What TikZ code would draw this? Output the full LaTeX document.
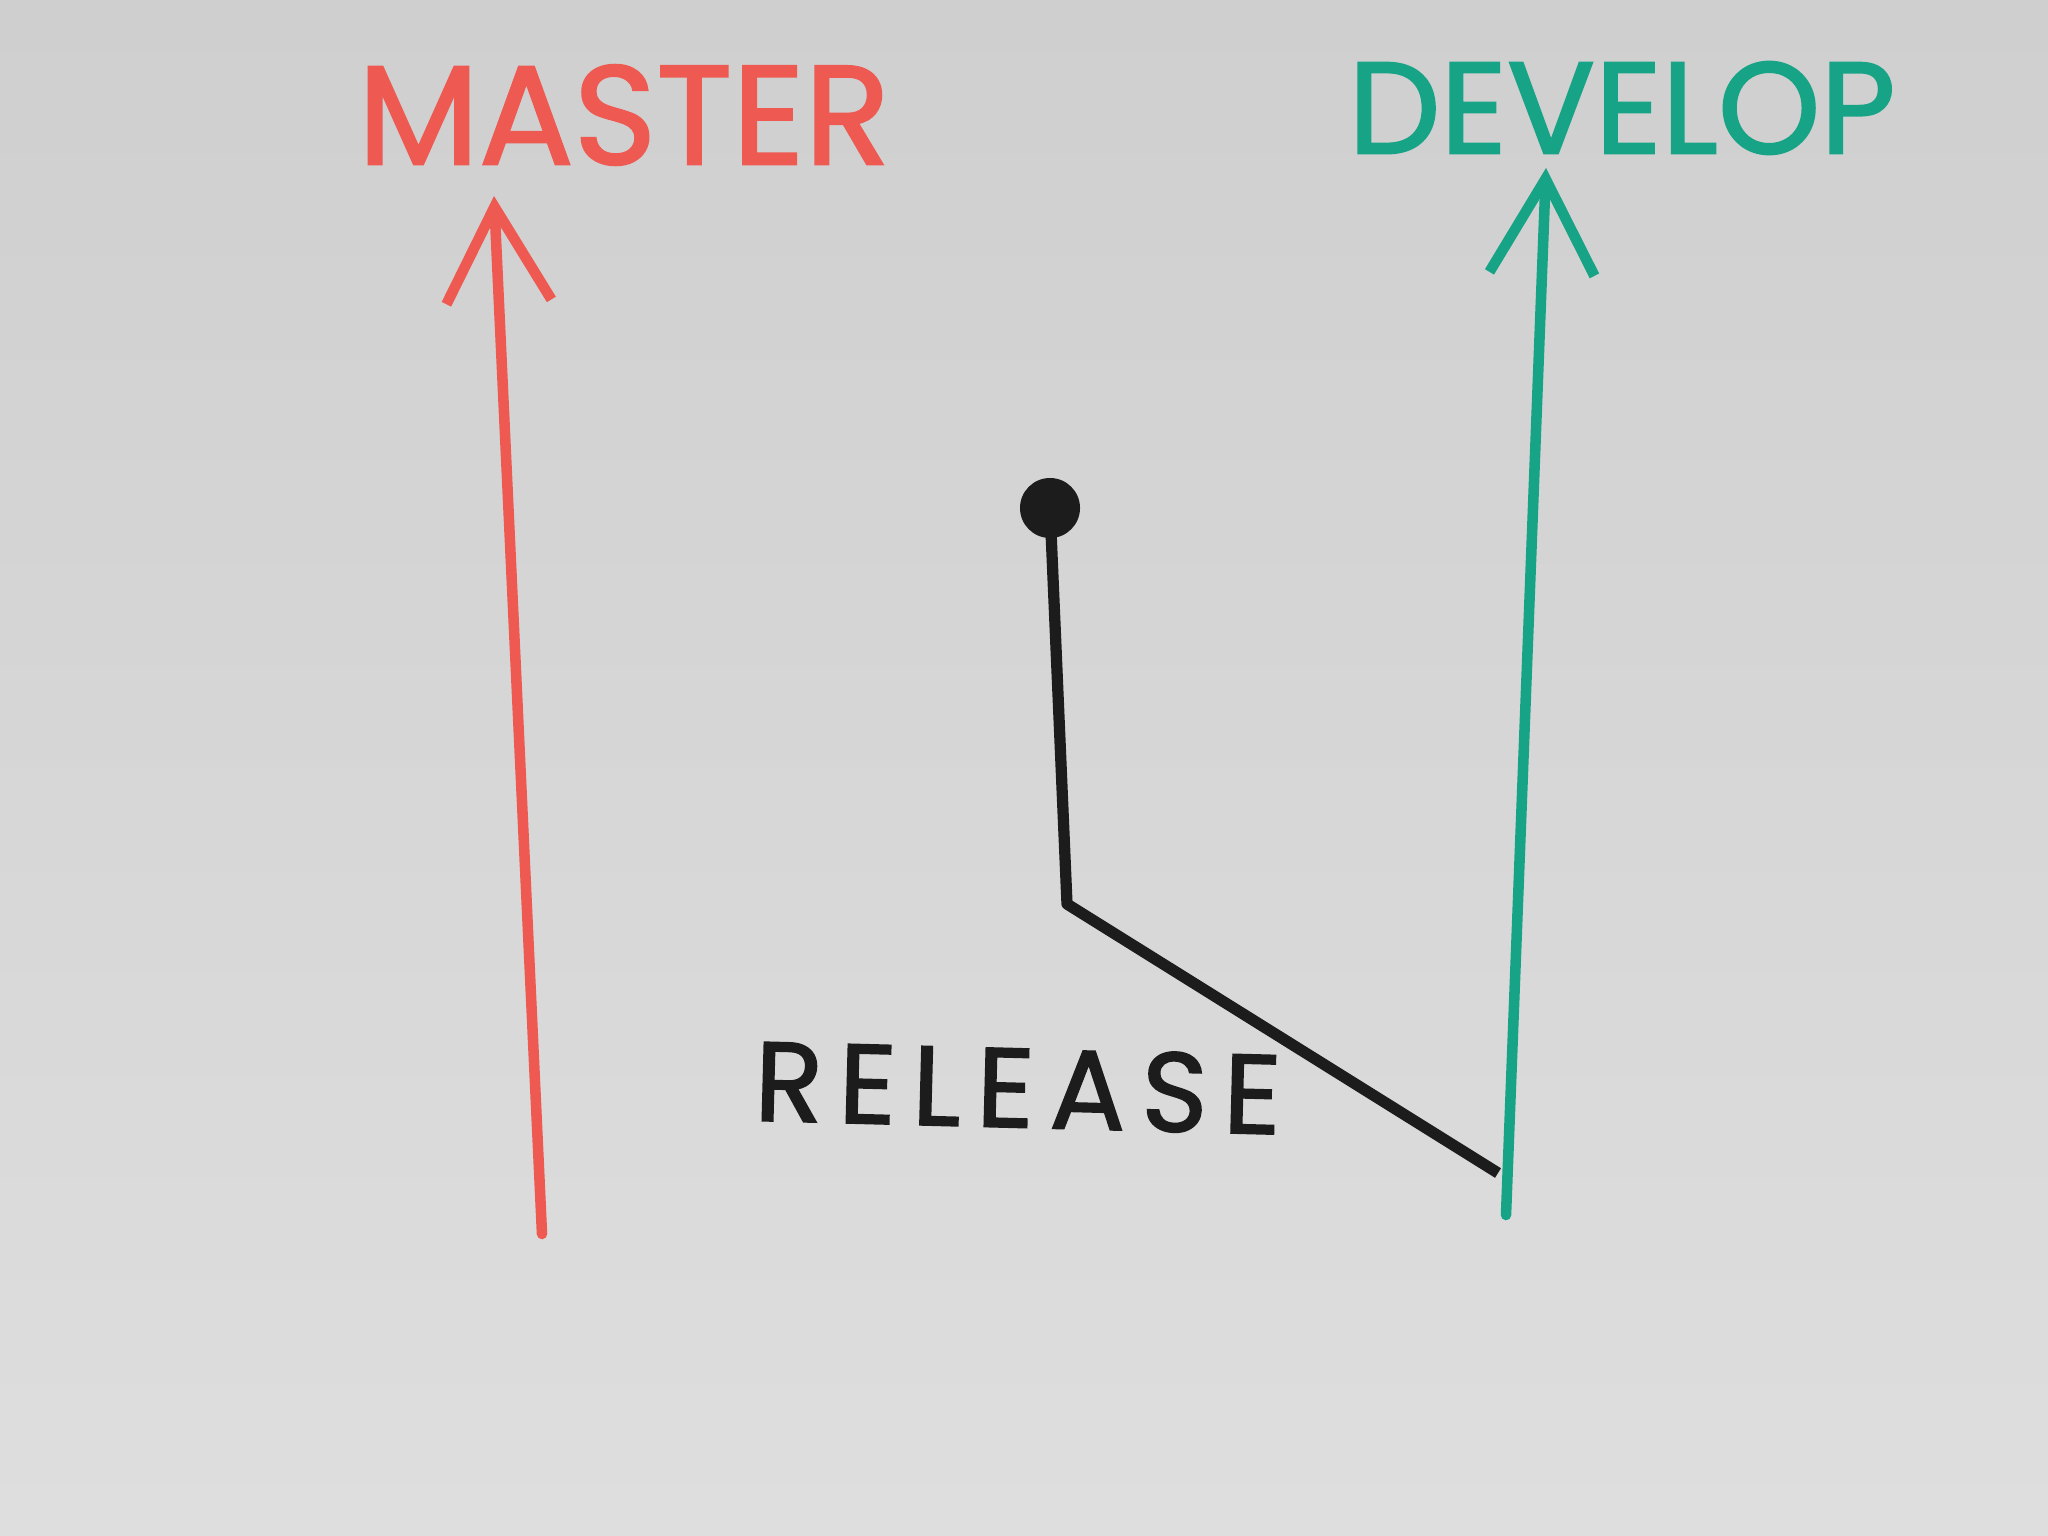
\documentclass[tikz,border=0pt]{standalone}
\usepackage{fontspec}
\setsansfont{Poppins}
\usetikzlibrary{arrows.meta}
\definecolor{masterred}{HTML}{EE5A52}
\definecolor{developgreen}{HTML}{17A386}
\definecolor{boardtop}{HTML}{CFCFCF}
\definecolor{boardbottom}{HTML}{DEDEDE}
\definecolor{marker}{HTML}{1C1C1C}
\newcommand{\markerfont}[1]{\fontsize{#1}{#1}\selectfont\sffamily\addfontfeature{FakeBold=1.6}}
\begin{document}
\begin{tikzpicture}[x=0.01cm, y=-0.01cm, font=\sffamily,
	branch/.style={line width=3pt, line cap=round,
		-{Straight Barb[length=0.95cm, width=1.05cm, line width=3pt]}},
	branchname/.style={font=\markerfont{40}, inner sep=0pt},
	commit/.style={circle, fill=marker, minimum size=0.6cm, inner sep=0pt}]
	%board
	\shade[top color=boardtop, bottom color=boardbottom] (0,0) rectangle (2048,1536);
	\useasboundingbox (0,0) rectangle (2048,1536);
	%labels
	\node[branchname, text=masterred] (master) at (624,115) {MASTER};
	\node[branchname, text=developgreen, font=\markerfont{37}] (develop) at (1622,108) {DEVELOP};
	\node[branchname, text=marker, rotate=-1.5, font=\markerfont{32}\addfontfeature{LetterSpace=14}]
	(release) at (1018,1088) {RELEASE};
	%branches
	\coordinate (master base) at (542,1234);
	\coordinate (master tip) at (494,196);
	\draw[branch, masterred] (master base) -- (master tip);
	\coordinate (develop base) at (1506,1215);
	\coordinate (develop tip) at (1546,168);
	\draw[branch, developgreen] (develop base) -- (develop tip);
	%release branch
	\node[commit] (release head) at (1050,508) {};
	\coordinate (release corner) at (1067,904);
	\coordinate (release start) at (1498,1173);
	\draw[marker, line width=3.2pt, line join=round]
	(release head.center) -- (release corner) -- (release start);
\end{tikzpicture}
\end{document}
